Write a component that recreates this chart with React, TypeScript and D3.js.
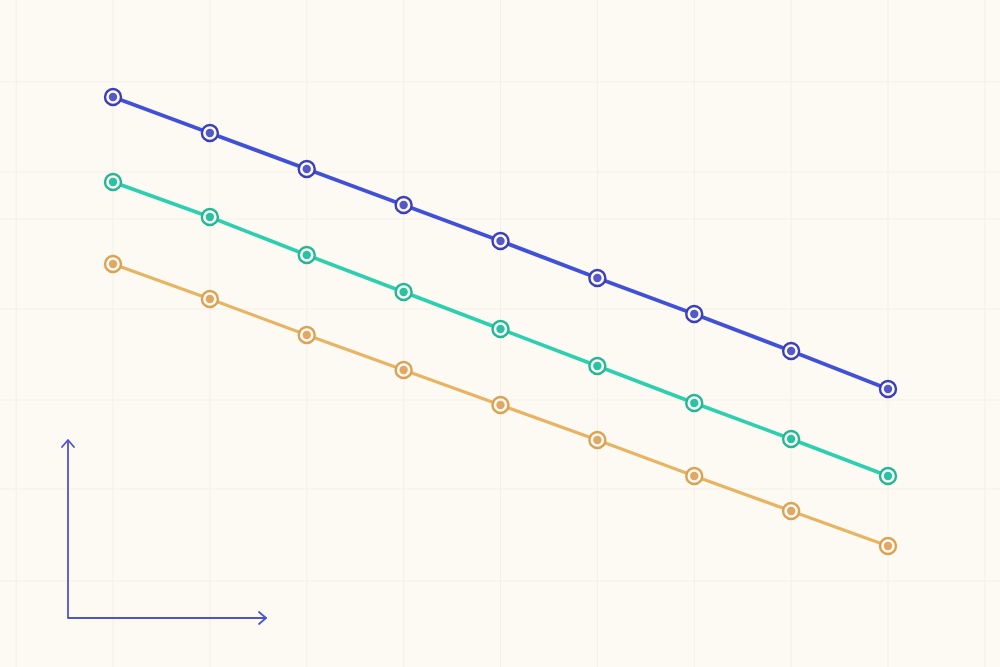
import { useEffect, useRef } from "react";
import * as d3 from "d3";

// x positions are just the 9 steps
const steps = [0, 1, 2, 3, 4, 5, 6, 7, 8];

// values
const blueValues = [52.3, 48.7, 45.1, 41.5, 37.9, 34.2, 30.6, 26.9, 23.1];
const tealValues = [43.8, 40.3, 36.5, 32.8, 29.1, 25.4, 21.7, 18.1, 14.4];
const orangeValues = [35.6, 32.1, 28.5, 25.0, 21.5, 18.0, 14.4, 10.9, 7.4];

const seriesNames = ["blue", "teal", "orange"];
const lineColors = ["#4150d8", "#2ccfae", "#e8b463"];
const ringColors = ["#3b3fb8", "#24b796", "#dba253"];
const dotColors = ["#5558c8", "#29c2a2", "#e0a862"];

// background grid rows (page px) - paper is not evenly ruled
const gridRows = [82, 172, 219, 309, 400, 489, 581];

export default function App() {
    let ref = useRef<SVGSVGElement | null>(null);
    const width = 1000;
    const height = 667;

    useEffect(() => {
        const svg = d3.select(ref.current);
        svg.selectAll("*").remove();

        const xScale = d3.scaleLinear().domain([0, 8]).range([113, 888]);
        const yScale = d3.scaleLinear().domain([0, 60]).range([620, 20]);

        svg.append("rect")
            .attr("width", width)
            .attr("height", height)
            .attr("fill", "#fcfaf3");

        // faint grid
        const grid = svg.append("g").attr("stroke", "#f3f0e6").attr("stroke-width", 1);
        d3.range(-1, 10).forEach((i) => {
            grid.append("line")
                .attr("x1", xScale(i))
                .attr("x2", xScale(i))
                .attr("y1", 0)
                .attr("y2", height);
        });
        gridRows.forEach((y) => {
            grid.append("line")
                .attr("x1", 0)
                .attr("x2", width)
                .attr("y1", y)
                .attr("y2", y);
        });

        // axis arrows
        const axisColor = "#4f53cf";
        const ax = svg.append("g")
            .attr("stroke", axisColor)
            .attr("stroke-width", 1.8)
            .attr("fill", "none")
            .attr("stroke-linecap", "round")
            .attr("stroke-linejoin", "round");
        ax.append("path").attr("d", "M68,441 L68,618 L266,618");
        ax.append("path").attr("d", "M62,447 L68,440 L74,447");
        ax.append("path").attr("d", "M259,612 L266,618 L259,624");

        const allSeries = [blueValues, tealValues, orangeValues];
        const widths = [4, 3.6, 3.2];

        const line = d3.line<number>()
            .x((d, i) => xScale(steps[i]))
            .y((d) => yScale(d));

        allSeries.forEach((vals, s) => {
            const g = svg.append("g").attr("class", seriesNames[s]);
            g.append("path")
                .datum(vals)
                .attr("d", line)
                .attr("fill", "none")
                .attr("stroke", lineColors[s])
                .attr("stroke-width", widths[s]);

            g.selectAll("circle.ring")
                .data(vals)
                .join("circle")
                .attr("class", "ring")
                .attr("cx", (d, i) => xScale(steps[i]))
                .attr("cy", (d) => yScale(d))
                .attr("r", 8)
                .attr("fill", "#fbf9f4")
                .attr("stroke", ringColors[s])
                .attr("stroke-width", 2.4);

            g.selectAll("circle.dot")
                .data(vals)
                .join("circle")
                .attr("class", "dot")
                .attr("cx", (d, i) => xScale(steps[i]))
                .attr("cy", (d) => yScale(d))
                .attr("r", 4.2)
                .attr("fill", dotColors[s]);
        });
    }, []);

    return (
        <svg
            ref={ref}
            width={width}
            height={height}
            style={{ position: "absolute", left: 0, top: 0, display: "block" }}
        />
    );
}
